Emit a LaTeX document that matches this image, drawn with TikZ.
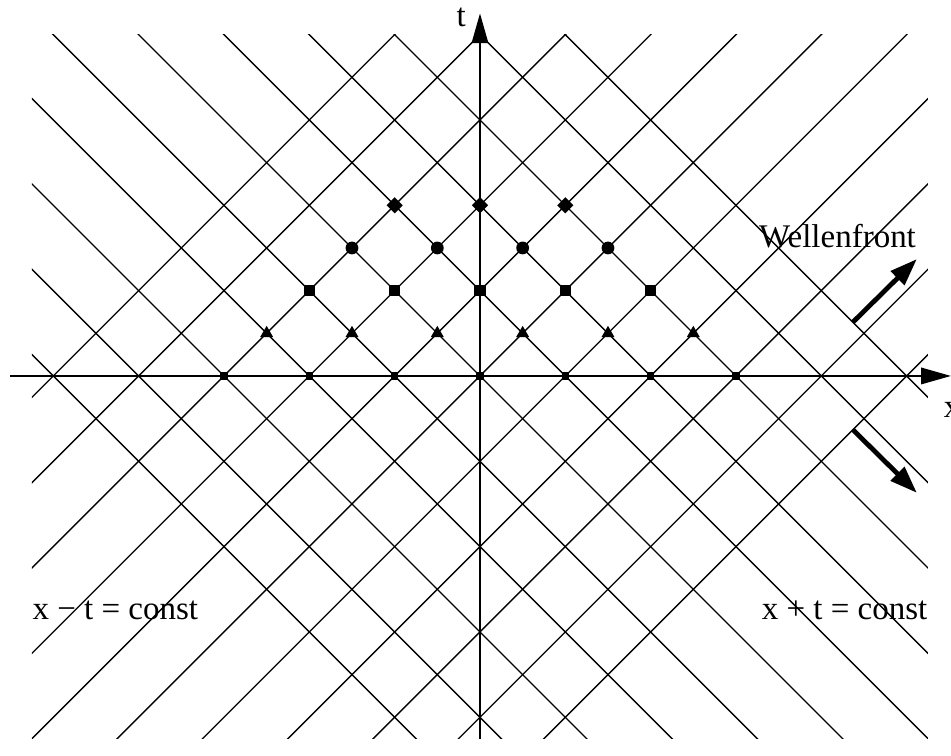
\documentclass[tikz,border=0pt]{standalone}
\usepackage{fontspec}
\setmainfont{Liberation Serif}
\usetikzlibrary{arrows.meta,shapes.geometric}
\tikzset{
  wave/.style={line width=0.45pt},
  axis/.style={line width=0.9pt,-{Triangle[length=3.5mm,width=1.9mm]}},
  front/.style={line width=1.6pt,-{Triangle[length=3.2mm,width=2.2mm]}},
  lbl/.style={font=\fontsize{11}{13}\selectfont,inner sep=0pt},
  % markers
  axdot/.style={fill,inner sep=0pt,minimum size=0.85mm},
  tridot/.style={fill,regular polygon,regular polygon sides=3,inner sep=0pt,minimum size=1.75mm},
  sqdot/.style={fill,inner sep=0pt,minimum size=1.35mm},
  cdot/.style={fill,circle,inner sep=0pt,minimum size=1.5mm},
  dmdot/.style={fill,diamond,inner sep=0pt,minimum size=1.95mm},
}

\begin{document}
\begin{tikzpicture}
  \useasboundingbox (-5.625,-4.453) rectangle (5.52,4.406);
  % characteristics x+t=c and x-t=c
  \begin{scope}
    \clip (-5.25,-4.25) rectangle (5.25,4);
    \foreach \c in {-5,...,5} {
      \draw[wave] (\c-10,10) -- (\c+10,-10);
      \draw[wave] (\c-10,-10) -- (\c+10,10);
    }
  \end{scope}
  % axes
  \coordinate (xl) at (-5.51,0);
  \coordinate (xr) at (5.52,0);
  \coordinate (tb) at (0,-4.25);
  \coordinate (tt) at (0,4.25);
  \draw[axis] (xl) -- (xr);
  \draw[axis] (tb) -- (tt);
  \node[lbl,anchor=base] (tlab) at (-0.22,4.09) {t};
  \node[lbl,anchor=base west] (xlab) at (5.43,-0.49) {x};
  % grid points
  \foreach \i in {-3,...,3} \node[axdot] (p0\i) at (\i,0) {};
  \foreach \i in {-2.5,-1.5,-0.5,0.5,1.5,2.5} \node[tridot] (p1\i) at (\i,0.5) {};
  \foreach \i in {-2,...,2} \node[sqdot] (p2\i) at (\i,1) {};
  \foreach \i in {-1.5,-0.5,0.5,1.5} \node[cdot] (p3\i) at (\i,1.5) {};
  \foreach \i in {-1,0,1} \node[dmdot] (p4\i) at (\i,2) {};
  % wave fronts
  \node[lbl,anchor=base] (wf) at (4.19,1.5) {Wellenfront};
  \coordinate (wa) at (4.37,0.63);
  \coordinate (wb) at (5.12,1.37);
  \coordinate (wc) at (4.37,-0.63);
  \coordinate (wd) at (5.12,-1.37);
  \draw[front] (wa) -- (wb);
  \draw[front] (wc) -- (wd);
  \node[lbl,anchor=base west] (lm) at (-5.25,-2.85) {x − t = const};
  \node[lbl,anchor=base east] (lp) at (5.25,-2.85) {x + t = const};
\end{tikzpicture}
\end{document}
